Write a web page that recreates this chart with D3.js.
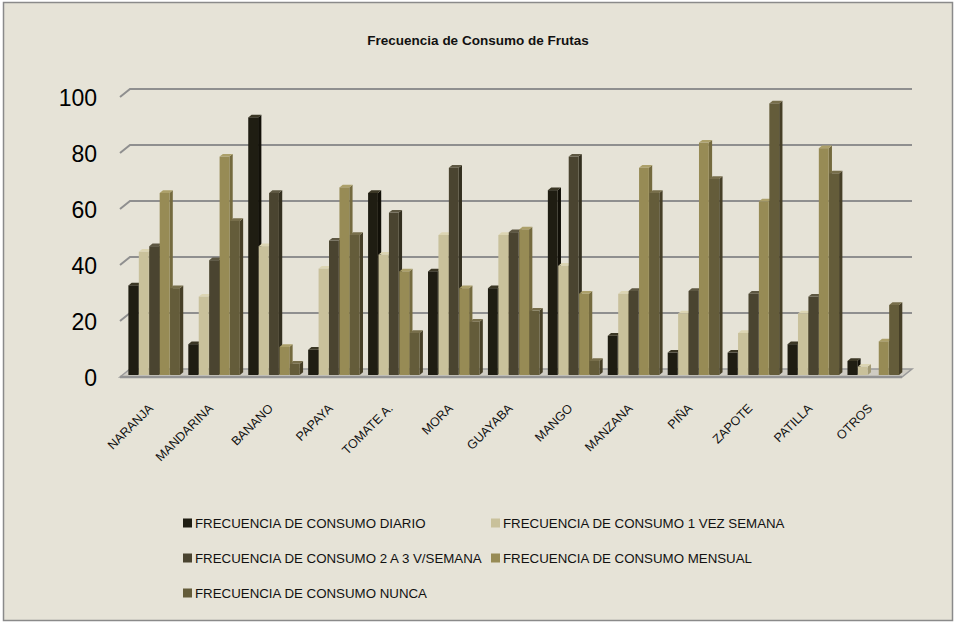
<!DOCTYPE html>
<html>
<head>
<meta charset="utf-8">
<script src="https://cdn.jsdelivr.net/npm/d3@7"></script>
<style>
  body { margin: 0; background: #fff; }
  svg text { font-family: "Liberation Sans", Arial, sans-serif; }
</style>
</head>
<body>
<div id="chart"></div>
<script>
// data
var categories = ["NARANJA", "MANDARINA", "BANANO", "PAPAYA", "TOMATE A.", "MORA", "GUAYABA", "MANGO", "MANZANA", "PIÑA", "ZAPOTE", "PATILLA", "OTROS"];
var diario  = [32, 11, 92, 9, 65, 37, 31, 66, 14, 8, 8, 11, 5];
var unaVez  = [44, 28, 46, 38, 43, 50, 50, 39, 29, 22, 15, 22, 3];
var dosTres = [46, 41, 65, 48, 58, 74, 51, 78, 30, 30, 29, 28, 0];
var mensual = [65, 78, 10, 67, 37, 31, 52, 29, 74, 83, 62, 81, 12];
var nunca   = [31, 55, 4, 50, 15, 19, 23, 5, 65, 70, 97, 72, 25];
var yTicks = [0, 20, 40, 60, 80, 100];

var seriesNames = [
    "FRECUENCIA DE CONSUMO DIARIO",
    "FRECUENCIA DE CONSUMO 1 VEZ SEMANA",
    "FRECUENCIA DE CONSUMO 2 A 3 V/SEMANA",
    "FRECUENCIA DE CONSUMO MENSUAL",
    "FRECUENCIA DE CONSUMO NUNCA"
];
var seriesValues = [diario, unaVez, dosTres, mensual, nunca];
// front, side, top shades
var colors = [
    { front: "#1f1d12", side: "#121008", top: "#3b3725" },
    { front: "#c9c19b", side: "#a39b76", top: "#dcd5b3" },
    { front: "#4a4430", side: "#332f1f", top: "#5d5742" },
    { front: "#978b55", side: "#746a3e", top: "#aca06a" },
    { front: "#645c3a", side: "#463f27", top: "#776e4b" }
];

var width = 956, height = 625;
var svg = d3.select("#chart").append("svg")
    .attr("width", width)
    .attr("height", height);

svg.append("rect")
    .attr("x", 0).attr("y", 0)
    .attr("width", width).attr("height", height)
    .attr("fill", "#fff");
svg.append("rect")
    .attr("x", 3.5).attr("y", 2.5)
    .attr("width", 949).attr("height", 618)
    .attr("fill", "#e6e3d7")
    .attr("stroke", "#8a8a8a")
    .attr("stroke-width", 1.5);

// title
svg.append("text")
    .attr("x", 478)
    .attr("y", 45)
    .attr("text-anchor", "middle")
    .style("font-size", "13.5px")
    .style("font-weight", "bold")
    .attr("fill", "#111")
    .text("Frecuencia de Consumo de Frutas");

// 3d settings: wall depth and bar depth
var wallDx = 10, wallDy = -8;
var barShiftX = 2.5, barShiftY = -2;
var barDx = 3.3, barDy = -2.7;
var plotLeft = 120, plotRight = 902;

var y = d3.scaleLinear().domain([0, 100]).range([377, 97]);

var x0 = d3.scaleBand()
    .domain(categories)
    .range([122, 901])
    .paddingInner(0.13)
    .paddingOuter(0.065);

var x1 = d3.scaleBand()
    .domain(d3.range(seriesNames.length))
    .range([0, x0.bandwidth()]);

// gridlines on back wall, with the slanted edge on the left
var grid = svg.append("g");
yTicks.forEach(function (t) {
    if (t === 0) return;
    grid.append("path")
        .attr("d", "M" + plotLeft + "," + y(t) +
            "L" + (plotLeft + wallDx) + "," + (y(t) + wallDy) +
            "L" + (plotRight + wallDx) + "," + (y(t) + wallDy))
        .attr("fill", "none")
        .attr("stroke", "#8f8f8f")
        .attr("stroke-width", 2);
});

// floor
svg.append("path")
    .attr("d", "M" + plotLeft + "," + y(0) +
        "L" + (plotLeft + wallDx) + "," + (y(0) + wallDy) +
        "L" + (plotRight + wallDx) + "," + (y(0) + wallDy) +
        "L" + plotRight + "," + y(0) + "Z")
    .attr("fill", "#cfccc3")
    .attr("stroke", "#9a9a9a")
    .attr("stroke-width", 1.5);
svg.append("line")
    .attr("x1", plotLeft).attr("x2", plotRight)
    .attr("y1", y(0)).attr("y2", y(0))
    .attr("stroke", "#939393")
    .attr("stroke-width", 2.5);

// y axis labels
svg.selectAll(".ylabel")
    .data(yTicks)
    .enter().append("text")
    .attr("class", "ylabel")
    .attr("x", 97)
    .attr("y", function (d) { return y(d) + 1; })
    .attr("text-anchor", "end")
    .attr("dominant-baseline", "central")
    .style("font-size", "23px")
    .attr("fill", "#000")
    .text(function (d) { return d; });

// bars drawn left to right so the next bar hides the side face
var bars = svg.append("g");
categories.forEach(function (cat, ci) {
    seriesValues.forEach(function (vals, si) {
        var v = vals[ci];
        if (!v) return;
        var bx = x0(cat) + x1(si) + barShiftX;
        var bw = x1.bandwidth() - 0.6;
        var bottom = y(0) + barShiftY;
        var top = y(v) + barShiftY;
        var c = colors[si];
        var g = bars.append("g");
        // side face
        g.append("path")
            .attr("d", "M" + (bx + bw) + "," + bottom +
                "L" + (bx + bw + barDx) + "," + (bottom + barDy) +
                "L" + (bx + bw + barDx) + "," + (top + barDy) +
                "L" + (bx + bw) + "," + top + "Z")
            .attr("fill", c.side);
        // top face
        g.append("path")
            .attr("d", "M" + bx + "," + top +
                "L" + (bx + barDx) + "," + (top + barDy) +
                "L" + (bx + bw + barDx) + "," + (top + barDy) +
                "L" + (bx + bw) + "," + top + "Z")
            .attr("fill", c.top);
        // front face
        g.append("rect")
            .attr("x", bx)
            .attr("y", top)
            .attr("width", bw)
            .attr("height", bottom - top)
            .attr("fill", c.front);
    });
});

// category labels, rotated
svg.selectAll(".xlabel")
    .data(categories)
    .enter().append("text")
    .attr("class", "xlabel")
    .attr("transform", function (d) {
        var cx = x0(d) + x0.bandwidth() / 2 + 2;
        return "translate(" + cx + ",409) rotate(-45)";
    })
    .attr("text-anchor", "end")
    .style("font-size", "12.5px")
    .attr("fill", "#111")
    .text(function (d) { return d; });

// legend in two columns
var legendCols = [183, 491];
var legendRows = [523, 558, 593];
var legend = svg.selectAll(".legend")
    .data(seriesNames)
    .enter().append("g")
    .attr("class", "legend")
    .attr("transform", function (d, i) {
        return "translate(" + legendCols[i % 2] + "," + legendRows[Math.floor(i / 2)] + ")";
    });
legend.append("rect")
    .attr("x", 0)
    .attr("y", -4.5)
    .attr("width", 9)
    .attr("height", 9)
    .attr("fill", function (d, i) { return colors[i].front; });
legend.append("text")
    .attr("x", 12)
    .attr("y", 0)
    .attr("dominant-baseline", "central")
    .style("font-size", "13.3px")
    .attr("fill", "#111")
    .text(function (d) { return d; });
</script>
</body>
</html>
